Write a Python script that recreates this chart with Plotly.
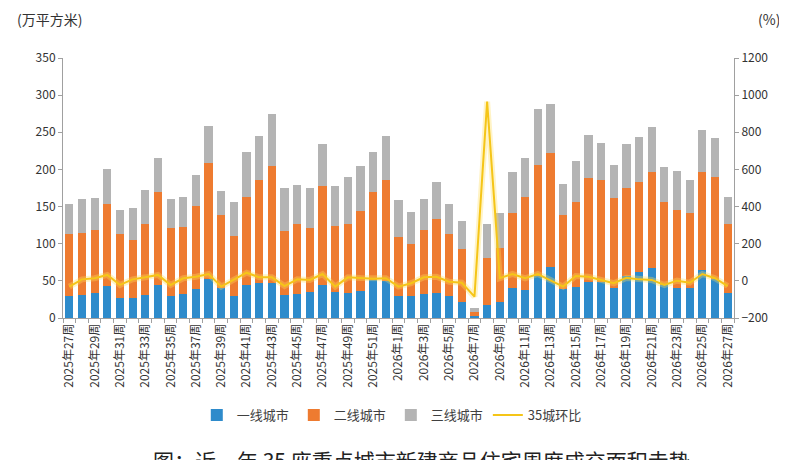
import plotly.graph_objects as go

# =====================================================
# DATA
# =====================================================

weeks = [f"2025年{w}周" for w in range(27, 53)] + [f"2026年{w}周" for w in range(1, 28)]

tier1 = [30, 31, 33, 43, 27, 27, 31, 44, 30, 32, 39, 53, 40, 30, 44, 47, 47, 31, 32, 35,
         45, 35, 34, 36, 51, 50,
         30, 30, 32, 33, 30, 22, 3, 17, 22, 40, 38, 56, 69, 39, 42, 49, 48, 41, 56, 62,
         67, 44, 41, 40, 64, 53, 33]

tier_total2 = [113, 115, 119, 154, 113, 105, 126, 170, 121, 123, 151, 208, 138, 110, 163, 186,
               205, 117, 126, 121, 178, 124, 126, 144, 170, 186,
               109, 99, 118, 133, 113, 93, 8, 81, 94, 141, 163, 206, 222, 139, 156, 189,
               186, 161, 175, 183, 196, 156, 145, 142, 196, 190, 126]

tier_total3 = [153, 160, 161, 200, 145, 148, 172, 216, 160, 163, 193, 259, 171, 156, 223, 245,
               274, 175, 179, 175, 234, 178, 190, 204, 223, 245,
               159, 143, 160, 183, 153, 130, 13, 126, 141, 196, 215, 281, 288, 180, 211, 246,
               235, 206, 234, 244, 257, 203, 198, 186, 253, 242, 163]

mom = [-31, 8, 14, 32, -22, 8, 19, 32, -22, 14, 22, 37, -31, 5, 44, 19, 19, -28, 8, 5,
       37, -31, 19, 16, 11, 14,
       -31, -13, 19, 22, -5, -10, -85, 965, 14, 37, 14, 37, 5, -31, 26, 22, 5, -13, 16, 8,
       5, -22, 1, -10, 37, 14, -28]

tier2 = [b - a for a, b in zip(tier1, tier_total2)]
tier3 = [c - b for b, c in zip(tier_total2, tier_total3)]

tick_text = [w if i % 2 == 0 else "" for i, w in enumerate(weeks)]

FONT = "Noto Sans CJK SC"

# =====================================================
# FIGURE
# =====================================================

fig = go.Figure()

fig.add_trace(go.Bar(x=weeks, y=tier1, name="一线城市", marker=dict(color="#2E8BCB", line=dict(width=0))))
fig.add_trace(go.Bar(x=weeks, y=tier2, name="二线城市", marker=dict(color="#EE7B30", line=dict(width=0))))
fig.add_trace(go.Bar(x=weeks, y=tier3, name="三线城市", marker=dict(color="#B4B4B4", line=dict(width=0))))

# soft glow under the line
fig.add_trace(
    go.Scatter(
        x=weeks, y=mom, yaxis="y2", mode="lines", showlegend=False, hoverinfo="skip",
        line=dict(color="rgba(255,220,90,0.35)", width=6)
    )
)

fig.add_trace(
    go.Scatter(
        x=weeks, y=mom, yaxis="y2", mode="lines", name="35城环比",
        line=dict(color="#F5C518", width=2)
    )
)

fig.add_annotation(
    text="(万平方米)", xref="paper", yref="paper", x=-0.072, y=1.15,
    xanchor="left", yanchor="middle", showarrow=False,
    font=dict(family=FONT, size=14, color="#333333")
)

fig.add_annotation(
    text="(%)", xref="paper", yref="paper", x=1.072, y=1.15,
    xanchor="right", yanchor="middle", showarrow=False,
    font=dict(family=FONT, size=14, color="#333333")
)

fig.add_annotation(
    text="图：近一年 35 座重点城市新建商品住宅周度成交面积走势", xref="paper", yref="paper",
    x=0.535, y=-0.545, xanchor="center", yanchor="middle", showarrow=False,
    font=dict(family=FONT, size=21, color="#222222")
)

# page body adds 8px offset, so the figure is drawn slightly smaller
fig.update_layout(
    width=779,
    height=452,
    barmode="stack",
    bargap=0.35,
    plot_bgcolor="white",
    paper_bgcolor="white",
    margin=dict(l=55, r=53, t=50, b=142),
    font=dict(family=FONT, size=12, color="#333333"),
    legend=dict(
        orientation="h", x=0.49, y=-0.373, xanchor="center", yanchor="middle",
        traceorder="normal",
        font=dict(family=FONT, size=13, color="#404040"), itemwidth=30
    ),
    xaxis=dict(
        type="category",
        tickmode="array",
        tickvals=weeks,
        ticktext=tick_text,
        tickangle=-90,
        ticks="outside",
        tickson="boundaries",
        ticklen=4,
        tickcolor="#A0A0A0",
        showline=True,
        linecolor="#A0A0A0",
        tickfont=dict(family=FONT, size=12, color="#333333"),
        showgrid=False
    ),
    yaxis=dict(
        range=[0, 350],
        dtick=50,
        showline=True,
        linecolor="#A0A0A0",
        ticks="outside",
        ticklen=4,
        tickcolor="#A0A0A0",
        showgrid=False,
        zeroline=False,
        tickfont=dict(family=FONT, size=12, color="#333333")
    ),
    yaxis2=dict(
        range=[-200, 1200],
        dtick=200,
        overlaying="y",
        side="right",
        showline=True,
        linecolor="#A0A0A0",
        ticks="outside",
        ticklen=4,
        tickcolor="#A0A0A0",
        showgrid=False,
        zeroline=False,
        tickfont=dict(family=FONT, size=12, color="#333333")
    )
)

fig.write_html("out.html")
